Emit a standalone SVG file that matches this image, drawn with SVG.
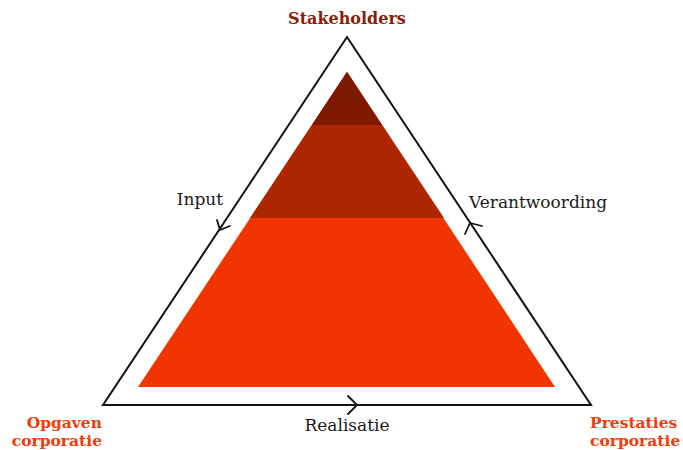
<svg xmlns="http://www.w3.org/2000/svg" width="683" height="450" viewBox="0 0 683 450">
<style>
.lbl{font-family:"DejaVu Serif","Liberation Serif",serif;font-size:17px;fill:#1a1a1a}
.corner{font-family:"DejaVu Serif","Liberation Serif",serif;font-size:15.5px;font-weight:bold;fill:#f23a0a}
.top{font-family:"DejaVu Serif","Liberation Serif",serif;font-size:16px;font-weight:bold;fill:#8a1e08}
.edge{fill:none;stroke:#111;stroke-width:2}
.chev{fill:none;stroke:#111;stroke-width:1.8;stroke-linecap:round;stroke-linejoin:round}
</style>
<rect width="683" height="450" fill="#fff"/>
<g id="pyramid">
<polygon points="347,72 555,387 138,387" fill="#f23400"/>
<polygon points="347,72 444,218 250,218" fill="#ad2600"/>
<polygon points="347,72 382,125 312,125" fill="#7d1a00"/>
</g>
<g id="connectors">
<polygon class="edge" points="347,37 591,405 103,405"/>
<path class="chev" d="M230,226 L220,230 L217,220"/>
<path class="chev" d="M465,234 L470,223 L482,226"/>
<path class="chev" d="M348,396 L357,405 L348,414"/>
</g>
<g id="stakeholders"><text class="top" x="347" y="24" text-anchor="middle">Stakeholders</text></g>
<g id="opgaven"><text class="corner" x="102" y="428" text-anchor="end">Opgaven</text><text class="corner" x="102" y="446" text-anchor="end">corporatie</text></g>
<g id="prestaties"><text class="corner" x="590" y="428">Prestaties</text><text class="corner" x="590" y="446">corporatie</text></g>
<text class="lbl" x="200" y="205" text-anchor="middle">Input</text>
<text class="lbl" x="469" y="208">Verantwoording</text>
<text class="lbl" x="347" y="431" text-anchor="middle">Realisatie</text>
</svg>
